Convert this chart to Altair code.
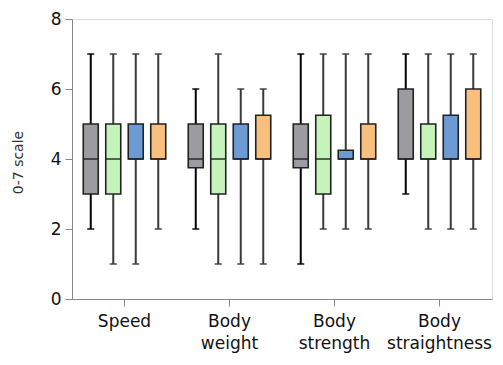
import altair as alt
import pandas as pd

categories = ["Speed", "Body weight", "Body strength", "Body straightness"]
groups = ["G1", "G2", "G3", "G4"]
colors = ["#9b9ba0", "#c5f4bb", "#6c9bd3", "#f9bf7f"]

# per category, per group
mins = [[2, 1, 1, 2], [2, 1, 1, 1], [1, 2, 2, 2], [3, 2, 2, 2]]
q1s = [[3, 3, 4, 4], [3.75, 3, 4, 4], [3.75, 3, 4, 4], [4, 4, 4, 4]]
medians = [[4, 4, 4, 4], [4, 4, 4, 4], [4, 4, 4, 4], [4, 4, 4, 4]]
q3s = [[5, 5, 5, 5], [5, 5, 5, 5.25], [5, 5.25, 4.25, 5], [6, 5, 5.25, 6]]
maxs = [[7, 7, 7, 7], [6, 7, 6, 6], [7, 7, 7, 7], [7, 7, 7, 7]]

rows = []
for i, c in enumerate(categories):
    for j, g in enumerate(groups):
        rows.append(dict(category=c, group=g, lo=mins[i][j], q1=q1s[i][j],
                         med=medians[i][j], q3=q3s[i][j], hi=maxs[i][j]))
df = pd.DataFrame(rows)

FONT = "DejaVu Sans"

x = alt.X("category:N", sort=categories, title=None,
          scale=alt.Scale(paddingInner=0, paddingOuter=0),
          axis=alt.Axis(labelAngle=0, labelExpr="split(datum.label, ' ')",
                        labelFontSize=17, labelLineHeight=22, labelPadding=7,
                        tickSize=7, labelColor="#111", labelFont=FONT, grid=False))
xo = alt.XOffset("group:N", sort=groups,
                 scale=alt.Scale(paddingInner=1/3, paddingOuter=0.5))
yscale = alt.Scale(domain=[0, 8], nice=False)
yaxis = alt.Axis(values=[0, 2, 4, 6, 8], tickSize=7, labelFontSize=17, labelPadding=4,
                 labelColor="#111", labelFont=FONT, grid=False,
                 titleFontSize=14, titleFontWeight="normal", titleColor="#333333",
                 titleFont=FONT, titleX=-47, titleY=143, titleAlign="center")
YT = "0-7 scale"

def Y(field):
    return alt.Y(field, scale=yscale, axis=yaxis, title=YT)

base = alt.Chart(df)

whisk_color = alt.condition("datum.group == 'G1'", alt.value("#000000"), alt.value("#3a3a3a"))

whiskers = base.mark_rule(strokeWidth=2).encode(
    x=x, xOffset=xo, y=Y("lo:Q"), y2="hi:Q", color=whisk_color)
caps_lo = base.mark_tick(size=7, thickness=2).encode(
    x=x, xOffset=xo, y=Y("lo:Q"), color=whisk_color)
caps_hi = base.mark_tick(size=7, thickness=2).encode(
    x=x, xOffset=xo, y=Y("hi:Q"), color=whisk_color)
boxes = base.mark_bar(stroke="#222222", strokeWidth=1.6).encode(
    x=x, xOffset=xo, y=Y("q1:Q"), y2="q3:Q",
    color=alt.Color("group:N", sort=groups,
                    scale=alt.Scale(domain=groups, range=colors), legend=None),
)
meds = base.mark_tick(size=15, thickness=2, color="#222222").encode(
    x=x, xOffset=xo, y=Y("med:Q"))

chart = alt.layer(whiskers, caps_lo, caps_hi, boxes, meds).properties(
    width=420, height=280,
    autosize=alt.AutoSizeParams(type="none"),
    padding={"left": 72, "top": 19, "right": 11, "bottom": 66},
    background="white",
).configure_view(stroke=None).configure_axis(
    grid=False, gridColor="red", gridWidth=3, domainColor="#000", domainWidth=1.5, tickColor="#000", tickWidth=1.5,
).configure(font=FONT)

chart.save("out.html", embed_options={"renderer": "svg", "actions": False})
